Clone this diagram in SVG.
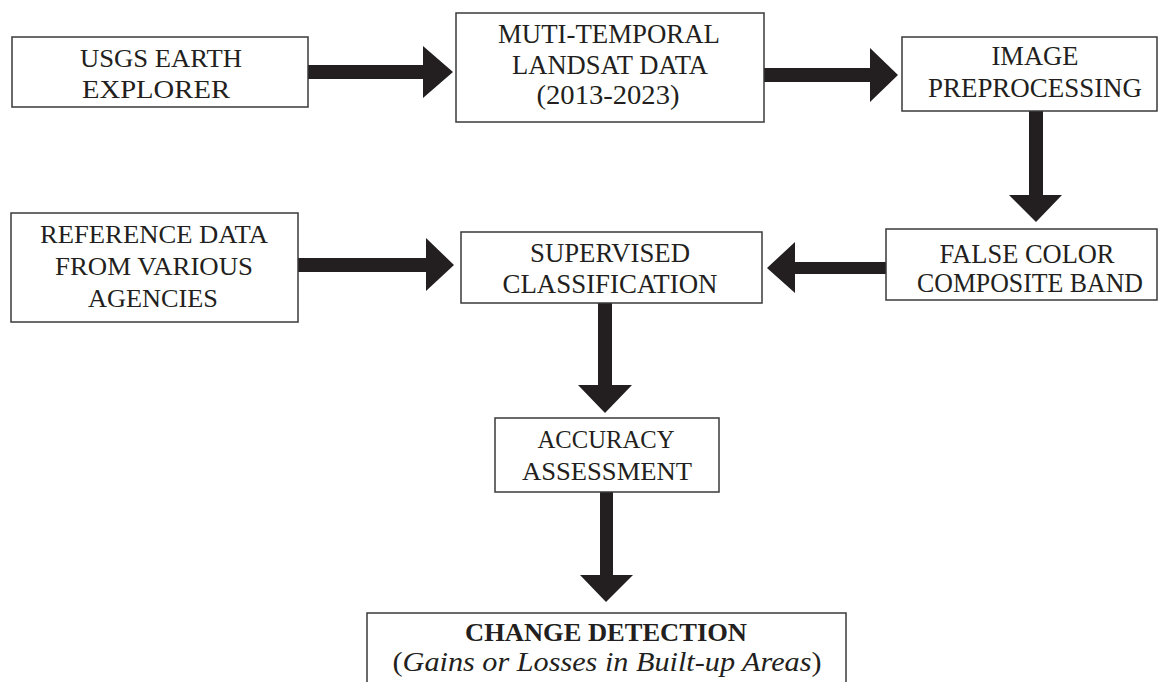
<svg xmlns="http://www.w3.org/2000/svg" width="1160" height="682" viewBox="0 0 1160 682">
<style>
.box{fill:#fff;stroke:#3a3a3a;stroke-width:1.5}
.arrow{fill:#231f20}
.t{font-family:"Liberation Serif","DejaVu Serif",serif;font-size:26px;fill:#231f20;text-anchor:middle}
.c{font-size:28px}
.s{font-size:27px}
.b{font-weight:bold}
.i{font-style:italic;font-size:27px}
.n{font-style:normal}
</style>
<rect width="1160" height="682" fill="#fff"/>
<g id="connectors">
<polygon class="arrow" points="308,65 423,65 423,46 453,72 423,98 423,79 308,79"/>
<polygon class="arrow" points="764,68 870,68 870,48 898,75 870,102 870,82 764,82"/>
<polygon class="arrow" points="1029,111 1043,111 1043,195 1062,195 1036,222 1009,195 1029,195"/>
<polygon class="arrow" points="886,262 795,262 795,242 767,268 795,293 795,274 886,274"/>
<polygon class="arrow" points="298,258 426,258 426,238 454,265 426,291 426,272 298,272"/>
<polygon class="arrow" points="598,303 612,303 612,385 632,385 605,413 578,385 598,385"/>
<polygon class="arrow" points="600,492 613,492 613,575 633,575 606,602 580,575 600,575"/>
</g>
<g id="usgs">
<rect class="box" x="12" y="37" width="296" height="70"/>
<text class="t" x="161" y="67" textLength="162" lengthAdjust="spacingAndGlyphs">USGS EARTH</text>
<text class="t" x="156" y="98" textLength="148" lengthAdjust="spacingAndGlyphs">EXPLORER</text>
</g>
<g id="landsat">
<rect class="box" x="456" y="13" width="308" height="109"/>
<text class="t c" x="609" y="43" textLength="222" lengthAdjust="spacingAndGlyphs">MUTI-TEMPORAL</text>
<text class="t c" x="610" y="74" textLength="196" lengthAdjust="spacingAndGlyphs">LANDSAT DATA</text>
<text class="t c" x="608" y="104" textLength="143" lengthAdjust="spacingAndGlyphs">(2013-2023)</text>
</g>
<g id="preprocessing">
<rect class="box" x="902" y="37" width="255" height="74"/>
<text class="t c" x="1035" y="65" textLength="87" lengthAdjust="spacingAndGlyphs">IMAGE</text>
<text class="t c" x="1035" y="97" textLength="214" lengthAdjust="spacingAndGlyphs">PREPROCESSING</text>
</g>
<g id="fcc">
<rect class="box" x="886" y="229" width="271" height="71"/>
<text class="t c" x="1027" y="263" textLength="175" lengthAdjust="spacingAndGlyphs">FALSE COLOR</text>
<text class="t s" x="1030" y="292" textLength="226" lengthAdjust="spacingAndGlyphs">COMPOSITE BAND</text>
</g>
<g id="supervised">
<rect class="box" x="461" y="232" width="301" height="71"/>
<text class="t c" x="610" y="262" textLength="160" lengthAdjust="spacingAndGlyphs">SUPERVISED</text>
<text class="t c" x="610" y="293" textLength="215" lengthAdjust="spacingAndGlyphs">CLASSIFICATION</text>
</g>
<g id="reference">
<rect class="box" x="11" y="213" width="287" height="109"/>
<text class="t" x="154" y="243" textLength="228" lengthAdjust="spacingAndGlyphs">REFERENCE DATA</text>
<text class="t" x="154" y="275" textLength="198" lengthAdjust="spacingAndGlyphs">FROM VARIOUS</text>
<text class="t" x="153" y="307" textLength="130" lengthAdjust="spacingAndGlyphs">AGENCIES</text>
</g>
<g id="accuracy">
<rect class="box" x="495" y="418" width="224" height="74"/>
<text class="t" x="606" y="448" textLength="137" lengthAdjust="spacingAndGlyphs">ACCURACY</text>
<text class="t" x="607" y="480" textLength="170" lengthAdjust="spacingAndGlyphs">ASSESSMENT</text>
</g>
<g id="change">
<rect class="box" x="367" y="613" width="479" height="80"/>
<text class="t b" x="606" y="641" textLength="282" lengthAdjust="spacingAndGlyphs">CHANGE DETECTION</text>
<text class="t i" x="607" y="671" textLength="429" lengthAdjust="spacingAndGlyphs"><tspan class="n">(</tspan>Gains or Losses in Built-up Areas<tspan class="n">)</tspan></text>
</g>
</svg>
